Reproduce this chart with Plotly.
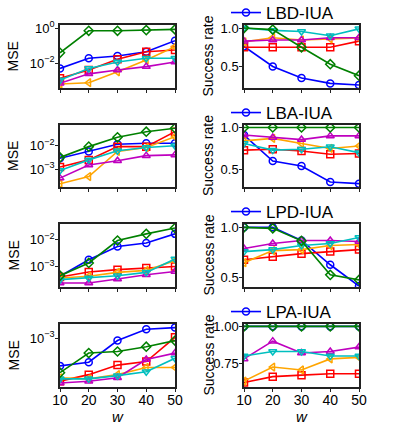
import math
import plotly.graph_objects as go
from plotly.subplots import make_subplots

# ---- data -------------------------------------------------------------------
w = [10, 20, 30, 40, 50]
panels = ["LBD-IUA", "LBA-IUA", "LPD-IUA", "LPA-IUA"]

# MSE (left column), one dict per panel, keyed by series colour
mse_lbd = {
    "blue":    [5.1e-3, 1.95e-2, 2.6e-2, 4.6e-2, 0.195],
    "red":     [1.4e-3, 4.2e-3, 1.7e-2, 4.6e-2, 5.8e-2],
    "orange":  [6.6e-4, 7.8e-4, 3.3e-3, 1.55e-2, 8.9e-2],
    "magenta": [7.2e-4, 2.5e-3, 4.2e-3, 6.5e-3, 1.2e-2],
    "cyan":    [1.1e-3, 5.1e-3, 1.2e-2, 1.95e-2, 1.95e-2],
    "green":   [4.0e-2, 0.72, 0.72, 0.79, 0.87],
}
mse_lba = {
    "blue":    [2.95e-3, 5.75e-3, 1.17e-2, 1.3e-2, 1.3e-2],
    "red":     [1.23e-3, 2.5e-3, 9.3e-3, 9.3e-3, 4.1e-2],
    "orange":  [2.35e-4, 4.8e-4, 5.75e-3, 8.5e-3, 2.5e-2],
    "magenta": [4.1e-4, 1.5e-3, 2.3e-3, 3.8e-3, 4.1e-3],
    "cyan":    [8.7e-4, 2.5e-3, 6.2e-3, 8.5e-3, 1.02e-2],
    "green":   [3.2e-3, 9.3e-3, 2.35e-2, 4.1e-2, 5.75e-2],
}
mse_lpd = {
    "blue":    [4.3e-4, 1.78e-3, 5.6e-3, 7.6e-3, 1.66e-2],
    "red":     [4.0e-4, 6.2e-4, 7.6e-4, 8.7e-4, 1.0e-3],
    "orange":  [3.7e-4, 4.3e-4, 6.0e-4, 7.1e-4, 1.66e-3],
    "magenta": [2.4e-4, 2.4e-4, 3.4e-4, 4.9e-4, 6.5e-4],
    "cyan":    [3.2e-4, 3.7e-4, 4.5e-4, 6.0e-4, 1.9e-3],
    "green":   [4.5e-4, 1.35e-3, 9.3e-3, 1.66e-2, 2.75e-2],
}
mse_lpa = {
    "blue":    [4.5e-4, 5.0e-4, 9.3e-4, 1.29e-3, 1.35e-3],
    "red":     [2.9e-4, 3.5e-4, 4.6e-4, 5.1e-4, 1.02e-3],
    "orange":  [3.2e-4, 3.1e-4, 3.5e-4, 4.3e-4, 4.3e-4],
    "magenta": [2.75e-4, 2.9e-4, 3.2e-4, 5.4e-4, 6.5e-4],
    "cyan":    [3.1e-4, 3.1e-4, 3.4e-4, 3.8e-4, 5.6e-4],
    "green":   [3.7e-4, 6.5e-4, 6.8e-4, 7.8e-4, 9.3e-4],
}

# Success rate (right column)
sr_lbd = {
    "blue":    [0.76, 0.50, 0.35, 0.28, 0.26],
    "red":     [0.75, 0.75, 0.75, 0.75, 0.83],
    "orange":  [0.82, 0.875, 0.845, 0.86, 0.87],
    "magenta": [0.83, 0.845, 0.845, 0.875, 0.875],
    "cyan":    [1.0, 0.97, 0.955, 0.90, 0.99],
    "green":   [1.0, 0.98, 0.75, 0.53, 0.38],
}
sr_lba = {
    "blue":    [0.91, 0.60, 0.54, 0.35, 0.33],
    "red":     [0.73, 0.74, 0.72, 0.68, 0.69],
    "orange":  [0.84, 0.87, 0.81, 0.75, 0.78],
    "magenta": [0.91, 0.88, 0.856, 0.90, 0.90],
    "cyan":    [0.81, 0.73, 0.74, 0.77, 0.70],
    "green":   [1.0, 1.0, 1.0, 1.0, 1.0],
}
sr_lpd = {
    "blue":    [1.0, 1.0, 0.87, 0.63, 0.42],
    "red":     [0.68, 0.71, 0.74, 0.76, 0.78],
    "orange":  [0.65, 0.77, 0.78, 0.82, 0.83],
    "magenta": [0.79, 0.84, 0.87, 0.87, 0.86],
    "cyan":    [0.76, 0.78, 0.82, 0.84, 0.90],
    "green":   [1.0, 0.99, 0.866, 0.53, 0.48],
}
sr_lpa = {
    "blue":    [1.0, 1.0, 1.0, 1.0, 1.0],
    "red":     [0.62, 0.66, 0.67, 0.68, 0.68],
    "orange":  [0.63, 0.725, 0.705, 0.78, 0.79],
    "magenta": [0.78, 0.90, 0.82, 0.83, 0.86],
    "cyan":    [0.80, 0.83, 0.83, 0.80, 0.80],
    "green":   [1.0, 1.0, 1.0, 1.0, 1.0],
}

mse_data = [mse_lbd, mse_lba, mse_lpd, mse_lpa]
sr_data = [sr_lbd, sr_lba, sr_lpd, sr_lpa]

# log10 y-ranges and tick values for the MSE panels
mse_ranges = [[-3.41, 0.19], [-3.77, -1.1], [-3.77, -1.41], [-3.61, -2.825]]
mse_ticks = [[1, 1e-2], [1e-2, 1e-3], [1e-2, 1e-3], [1e-3]]
sr_ranges = [[0.22, 1.04], [0.29, 1.03], [0.41, 1.033], [0.59, 1.016]]
sr_ticks = [[0.5, 1.0], [0.5, 1.0], [0.5, 1.0], [0.75, 1.0]]

# ---- styles -------------------------------------------------------------------
STYLE = {
    "blue":    ("#0000ff", "circle-open"),
    "red":     ("#ff0000", "square-open"),
    "orange":  ("#ffa500", "triangle-left-open"),
    "magenta": ("#bf00bf", "triangle-up-open"),
    "cyan":    ("#00bfbf", "triangle-down-open"),
    "green":   ("#008000", "diamond-open"),
}
FONT = "Liberation Sans, Arial, sans-serif"
W, H = 399, 426


def px_x(x):
    return x / W


def px_y(y):
    return 1 - y / H


def sup_label(v):
    exp = round(math.log10(v))
    return "10<sup>%s</sup>" % (str(exp).replace("-", "\u2212"))


fig = make_subplots(rows=4, cols=2)

x_left = [px_x(60), px_x(175)]
x_right = [px_x(244), px_x(359)]
row_px = [(25, 88), (125, 187), (224, 287), (324, 387)]

for r in range(4):
    top, bot = row_px[r]
    ydom = [px_y(bot), px_y(top)]
    for c, dset in enumerate([mse_data[r], sr_data[r]]):
        for key, vals in dset.items():
            color, sym = STYLE[key]
            is_leg = (c == 1 and key == "blue")
            fig.add_trace(go.Scatter(
                x=w, y=vals, mode="lines+markers",
                line=dict(color=color, width=1.6),
                marker=dict(symbol=sym, size=7, color=color, line=dict(width=1.5, color=color)),
                name=panels[r] if key == "blue" else key,
                showlegend=is_leg,
                legend="legend" if r == 0 else "legend%d" % (r + 1),
            ), row=r + 1, col=c + 1)

    axis_common = dict(showline=True, linecolor="#222", linewidth=1.5, mirror=True,
                       ticks="outside", ticklen=3, tickcolor="#222", showgrid=False,
                       zeroline=False)
    for c in range(2):
        fig.update_xaxes(domain=x_left if c == 0 else x_right, range=[10, 50],
                         tickvals=w, showticklabels=(r == 3), ticklabelstandoff=-4,
                         tickfont=dict(family=FONT, size=14, color="black"),
                         **axis_common, row=r + 1, col=c + 1)
    fig.update_yaxes(domain=ydom, type="log", range=mse_ranges[r],
                     tickvals=mse_ticks[r], ticktext=[sup_label(v) for v in mse_ticks[r]],
                     ticklabelstandoff=-2, tickfont=dict(family=FONT, size=13, color="black"),
                     **axis_common, row=r + 1, col=1)
    fig.update_yaxes(domain=ydom, range=sr_ranges[r], tickvals=sr_ticks[r],
                     ticktext=["%.2f" % v if r == 3 else "%.1f" % v for v in sr_ticks[r]],
                     ticklabelstandoff=-2, tickfont=dict(family=FONT, size=13, color="black"),
                     **axis_common, row=r + 1, col=2)

    # y-axis labels
    mid = px_y((top + bot) / 2)
    fig.add_annotation(text="MSE", x=px_x(13), y=mid, xref="paper", yref="paper",
                       xanchor="center", yanchor="middle", textangle=-90, showarrow=False,
                       font=dict(family=FONT, size=14, color="black"))
    fig.add_annotation(text="Success rate", x=px_x(208), y=mid, xref="paper", yref="paper",
                       xanchor="center", yanchor="middle", textangle=-90, showarrow=False,
                       font=dict(family=FONT, size=14, color="black"))

    leg = dict(x=px_x(226), y=px_y(top - 12), xanchor="left", yanchor="middle",
               bgcolor="rgba(0,0,0,0)", font=dict(family=FONT, size=17, color="black"),
               itemwidth=30)
    fig.update_layout(**{"legend" if r == 0 else "legend%d" % (r + 1): leg})

# x-axis titles
for xc in [(60 + 175) / 2, (244 + 359) / 2]:
    fig.add_annotation(text="<i>w</i>", x=px_x(xc), y=px_y(416), xref="paper", yref="paper",
                       xanchor="center", yanchor="middle", showarrow=False,
                       font=dict(family=FONT, size=15, color="black"))

fig.update_layout(
    width=W, height=H,
    margin=dict(l=0, r=0, t=0, b=0, autoexpand=False),
    paper_bgcolor="white", plot_bgcolor="white",
    font=dict(family=FONT, color="black"),
)

# drop the default 8px page margin so the figure fills the window exactly
fig.write_html("out.html", config={"displayModeBar": False},
               post_script="document.body.style.margin='0';")
